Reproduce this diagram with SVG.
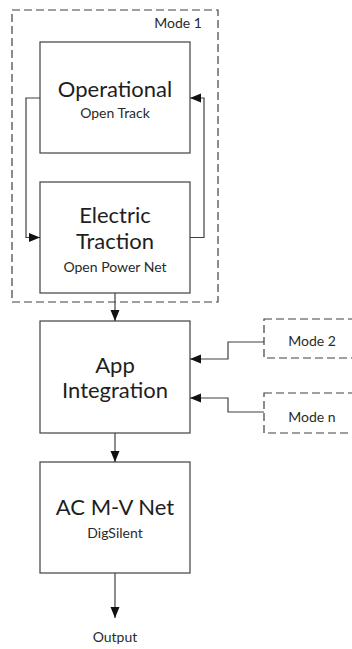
<svg xmlns="http://www.w3.org/2000/svg" width="352" height="649" viewBox="0 0 352 649">
  <style>
    .box { fill: #ffffff; stroke: #404040; stroke-width: 1.2; }
    .dash { fill: none; stroke: #404040; stroke-width: 1.2; stroke-dasharray: 8 4; }
    .wire { fill: none; stroke: #404040; stroke-width: 1.2; }
    .title { font-family: Lato, "Liberation Sans", sans-serif; font-size: 22px; font-weight: 400; fill: #1e1e1e; text-anchor: middle; }
    .sub { font-family: Lato, "Liberation Sans", sans-serif; font-size: 14px; font-weight: 400; fill: #2a2a2a; text-anchor: middle; }
  </style>
  <defs>
    <marker id="arrow" markerUnits="userSpaceOnUse" markerWidth="11" markerHeight="11" viewBox="0 0 11 11" refX="11" refY="5.5" orient="auto">
      <path d="M0,1 L11,5.5 L0,10 Z" fill="#111111"/>
    </marker>
  </defs>
  <rect width="352" height="649" fill="#ffffff"/>

  <!-- Mode 1 container -->
  <g id="mode1">
    <rect class="dash" x="12" y="10" width="206" height="292"/>
    <text class="sub" x="178" y="28">Mode 1</text>
  </g>

  <g id="operational">
    <rect class="box" x="40" y="42" width="150" height="111"/>
    <text class="title" x="115" y="97">Operational</text>
    <text class="sub" x="115" y="118">Open Track</text>
  </g>

  <g id="electric-traction">
    <rect class="box" x="40" y="182" width="150" height="111"/>
    <text class="title" x="115" y="223">Electric</text>
    <text class="title" x="115" y="249">Traction</text>
    <text class="sub" x="115" y="272">Open Power Net</text>
  </g>

  <g id="app-integration">
    <rect class="box" x="40" y="321" width="150" height="112"/>
    <text class="title" x="115" y="373">App</text>
    <text class="title" x="115" y="398">Integration</text>
  </g>

  <g id="mode2">
    <rect class="dash" x="264" y="319" width="100" height="39"/>
    <text class="sub" x="312" y="346">Mode 2</text>
  </g>

  <g id="moden">
    <rect class="dash" x="264" y="393" width="100" height="40"/>
    <text class="sub" x="312" y="422">Mode n</text>
  </g>

  <g id="ac-mv-net">
    <rect class="box" x="40" y="462" width="150" height="111"/>
    <text class="title" x="115" y="515">AC M-V Net</text>
    <text class="sub" x="115" y="538">DigSilent</text>
  </g>

  <g id="output">
    <text class="sub" x="115" y="642">Output</text>
  </g>

  <!-- connectors -->
  <g id="connectors">
    <path class="wire" d="M40,98 H26 V237.5 H40" marker-end="url(#arrow)"/>
    <path class="wire" d="M190,237.5 H204 V98 H190" marker-end="url(#arrow)"/>
    <path class="wire" d="M115,293 V321" marker-end="url(#arrow)"/>
    <path class="wire" d="M264,342 H228 V359 H190" marker-end="url(#arrow)"/>
    <path class="wire" d="M264,412 H228 V398 H190" marker-end="url(#arrow)"/>
    <path class="wire" d="M115,433 V462" marker-end="url(#arrow)"/>
    <path class="wire" d="M115,573 V618" marker-end="url(#arrow)"/>
  </g>
</svg>
